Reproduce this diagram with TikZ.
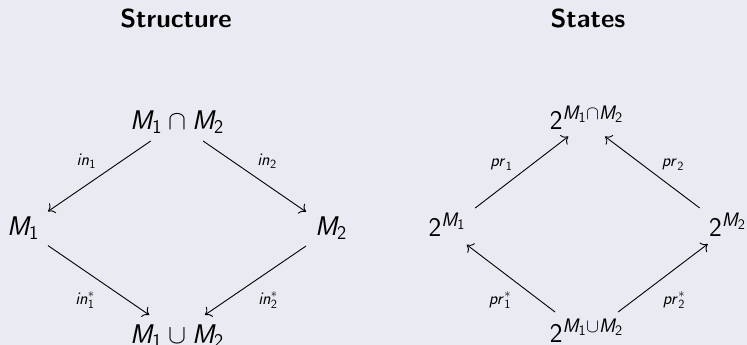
\RequirePackage{fix-cm}
\documentclass[tikz,border=0pt]{standalone}
\usetikzlibrary{arrows.meta}
\DeclareMathAlphabet{\msl}{OT1}{cmss}{m}{sl}
\DeclareMathAlphabet{\mup}{OT1}{cmss}{m}{n}
\DeclareMathSizes{27}{27}{19.5}{14.5}
\DeclareMathSizes{17.5}{17.5}{12.5}{9.5}
\newcommand{\Mi}[1]{\msl{M}_{\mup{#1}}}
\definecolor{bg}{HTML}{EAEAF2}
\tikzset{
  mathnode/.style={inner sep=0pt, outer sep=0pt, font=\fontsize{27}{32}\selectfont},
  lbl/.style={inner sep=0pt, anchor=base, font=\fontsize{17.5}{21}\selectfont},
  ttl/.style={inner sep=0pt, anchor=base, font=\fontsize{26}{31}\selectfont\sffamily\bfseries},
  arr/.style={line width=0.9pt, -{Computer Modern Rightarrow[length=6pt,width=12pt]}},
}
\begin{document}
\begin{tikzpicture}[x=1pt,y=-1pt]
\useasboundingbox (0,0) rectangle (747,345);
\fill[bg] (0,0) rectangle (747,345);
% titles
\node[ttl] (t1) at (176,28) {Structure};
\node[ttl] (t2) at (588,28) {States};
% left diagram
\node[mathnode, minimum height=36pt, text height=18pt, text depth=6pt] (A) at (177,123) {$\Mi1\cap\Mi2$};
\node[mathnode, minimum width=50pt, minimum height=40pt, text height=19pt, text depth=6pt] (B) at (23,228.5) {$\Mi1$};
\node[mathnode, minimum width=50pt, minimum height=40pt, text height=18pt, text depth=6pt] (C) at (331,229) {$\Mi2$};
\node[mathnode, minimum height=38pt, text height=22pt, text depth=4pt] (D) at (177,334) {$\Mi1\cup\Mi2$};
\draw[arr] (A) -- (B);
\draw[arr] (A) -- (C);
\draw[arr] (B) -- (D);
\draw[arr] (C) -- (D);
\node[lbl] (l1) at (86.3,165.7) {$\msl{in}_{\mup1}$};
\node[lbl] (l2) at (267,165.7) {$\msl{in}_{\mup2}$};
\node[lbl] (l3) at (85,304) {$\msl{in}_{\mup1}^{*}$};
\node[lbl] (l4) at (268,304) {$\msl{in}_{\mup2}^{*}$};
% right diagram
\node[mathnode, minimum height=28pt, text height=19pt, text depth=6pt] (E) at (586.5,122.5) {$\mup{2}^{\Mi1\cap\Mi2}$};
\node[mathnode, minimum width=60pt, minimum height=30pt, text height=18.6pt, text depth=6pt] (F) at (447,229.7) {$\mup{2}^{\Mi1}$};
\node[mathnode, minimum width=60pt, minimum height=30pt, text height=19pt, text depth=5pt] (G) at (727.5,229) {$\mup{2}^{\Mi2}$};
\node[mathnode, minimum height=48pt, text height=19.4pt, text depth=6pt] (H) at (586.5,336) {$\mup{2}^{\Mi1\cup\Mi2}$};
\draw[arr, shorten <=11pt] (F) -- (E);
\draw[arr, shorten <=10pt] (G) -- (E);
\draw[arr] (H) -- (F);
\draw[arr] (H) -- (G);
\node[lbl] (p1) at (501.5,166) {$\msl{pr}_{\mup1}$};
\node[lbl] (p2) at (673,166) {$\msl{pr}_{\mup2}$};
\node[lbl] (p3) at (500,304) {$\msl{pr}_{\mup1}^{*}$};
\node[lbl] (p4) at (674,304) {$\msl{pr}_{\mup2}^{*}$};
\end{tikzpicture}
\end{document}
